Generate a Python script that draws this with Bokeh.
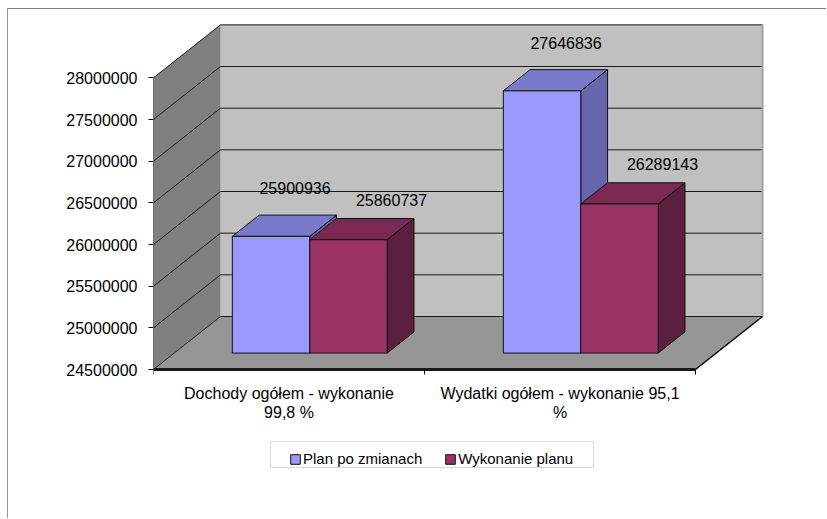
from bokeh.plotting import figure
from bokeh.models import Range1d, FixedTicker, NumeralTickFormatter, Legend, LegendItem, BoxAnnotation
from bokeh.embed import file_html
from bokeh.resources import INLINE
from bokeh.core.properties import value

# ---------------- data ----------------
categories = ["Dochody ogółem - wykonanie\n99,8 %", "Wydatki ogółem - wykonanie 95,1\n%"]
series_names = ["Plan po zmianach", "Wykonanie planu"]
plan_values = [25900936, 27646836]
wykonanie_values = [25860737, 26289143]
y_ticks = [24500000, 25000000, 25500000, 26000000, 26500000, 27000000, 27500000, 28000000]

# ---------------- layout / style (page pixel coordinates) ----------------
OX, OY = 8, 9               # page position of the canvas (after CSS margin + border)
W, H = 819, 510
AXIS_X = 153                # page x of front value axis
FLOOR_Y = 369               # page y of front floor edge
PX_X = 271.0                # px per category
PX_Y = 83.33e-6             # px per value unit
DEPTH_PX = (67.0, 53.0)     # 3D depth offset in px (right, up)
F_FRONT, F_BACK = 0.31, 0.71
BAR_W = 1 / 3.5
GAP_L = 0.75 / 3.5
LABEL_OFF = [(24, 48), (43, 40)]   # data-label offset per series in px (right, up)
FONT = "Liberation Sans"
FS = "16px"
FS_LEG = "15px"

front_cols = ["#9999FF", "#993366"]
top_cols = ["#7A7ACC", "#7A2952"]
side_cols = ["#6666AA", "#5C1F3D"]

ymin, ymax = y_ticks[0], y_ticks[-1]
DXu = DEPTH_PX[0] / PX_X
DYu = DEPTH_PX[1] / PX_Y


def vy(py):
    """value at page y"""
    return ymin + (FLOOR_Y - py) / PX_Y


def cx(px):
    """x data at page x"""
    return (px - AXIS_X) / PX_X


def proj(x, v, f):
    return x + f * DXu, v + f * DYu


p = figure(width=W, height=H, output_backend="svg", toolbar_location=None,
           x_axis_location=None, y_axis_location="left",
           x_range=Range1d(0, cx(OX + W)), y_range=Range1d(vy(OY + H), vy(OY)),
           min_border_left=AXIS_X - OX, min_border_right=0, min_border_top=0, min_border_bottom=0,
           background_fill_color="white", border_fill_color="white", outline_line_color=None)
p.styles = {"margin-left": "7px", "margin-top": "8px",
            "border-left": "1px solid #9a9a9a", "border-top": "1px solid #7f7f7f"}
p.grid.visible = False

ax = p.yaxis[0]
ax.ticker = FixedTicker(ticks=y_ticks)
ax.formatter = NumeralTickFormatter(format="0")
ax.axis_line_color = None
ax.major_tick_line_color = "black"
ax.major_tick_out = 5
ax.major_tick_in = 0
ax.minor_tick_line_color = None
ax.major_label_standoff = 11
ax.major_label_text_font = FONT
ax.major_label_text_font_size = FS
ax.major_label_text_color = "black"

n = len(categories)


def poly(pts):
    xs, ys = zip(*[proj(*q) for q in pts])
    return list(xs), list(ys)


# walls and floor
back = poly([(0, ymin, 1), (n, ymin, 1), (n, ymax, 1), (0, ymax, 1)])
side = poly([(0, ymin, 0), (0, ymin, 1), (0, ymax, 1), (0, ymax, 0)])
floor = poly([(0, ymin, 0), (n, ymin, 0), (n, ymin, 1), (0, ymin, 1)])
p.patch(back[0], back[1], fill_color="#C0C0C0", line_color=None)
p.patch(side[0], side[1], fill_color="#808080", line_color=None)
p.patch(floor[0], floor[1], fill_color="#969696", line_color=None)

# gridlines on back wall and side wall
gx0, gy0, gx1, gy1 = [], [], [], []
sx0, sy0, sx1, sy1 = [], [], [], []
for t in y_ticks:
    a, b = proj(0, t, 1), proj(n, t, 1)
    gx0.append(a[0]); gy0.append(a[1]); gx1.append(b[0]); gy1.append(b[1])
    a, b = proj(0, t, 0), proj(0, t, 1)
    sx0.append(a[0]); sy0.append(a[1]); sx1.append(b[0]); sy1.append(b[1])
p.segment(gx0, gy0, gx1, gy1, line_color="#1a1a1a", line_width=1)
p.segment(sx0, sy0, sx1, sy1, line_color="#1a1a1a", line_width=1)
# back wall right edge
r0, r1 = proj(n, ymin, 1), proj(n, ymax, 1)
p.segment([r0[0]], [r0[1]], [r1[0]], [r1[1]], line_color="#a0a0a0", line_width=2)
# floor edges
f0, f1 = proj(n, ymin, 0), proj(n, ymin, 1)
p.segment([f0[0]], [f0[1]], [f1[0]], [f1[1]], line_color="black", line_width=1.5)
p.segment([0], [ymin], [n], [ymin], line_color="#1a1a1a", line_width=3)
# front value axis line
p.segment([0], [ymin], [0], [ymax], line_color="black", line_width=1)
# category ticks
tk = list(range(n + 1))
p.segment(tk, [ymin] * len(tk), tk, [ymin - 5 / PX_Y] * len(tk), line_color="black", line_width=1)

# bars
legend_items = []
lx, ly, lt = [], [], []
for s, vals in enumerate([plan_values, wykonanie_values]):
    fl, fr, ft, fb = [], [], [], []
    txs, tys, sxs, sys_ = [], [], [], []
    for i, v in enumerate(vals):
        x0 = i + GAP_L + s * BAR_W
        x1 = x0 + BAR_W
        a = proj(x0, ymin, F_FRONT)
        b = proj(x1, v, F_FRONT)
        fl.append(a[0]); fr.append(b[0]); fb.append(a[1]); ft.append(b[1])
        tx, ty = poly([(x0, v, F_FRONT), (x1, v, F_FRONT), (x1, v, F_BACK), (x0, v, F_BACK)])
        txs.append(tx); tys.append(ty)
        sx, sy = poly([(x1, ymin, F_FRONT), (x1, v, F_FRONT), (x1, v, F_BACK), (x1, ymin, F_BACK)])
        sxs.append(sx); sys_.append(sy)
        # data label anchor
        fx, fy = proj((x0 + x1) / 2, v, F_FRONT)
        lx.append(fx + LABEL_OFF[s][0] / PX_X)
        ly.append(fy + LABEL_OFF[s][1] / PX_Y)
        lt.append(str(v))
    p.patches(sxs, sys_, fill_color=side_cols[s], line_color="#111111", line_width=1)
    p.patches(txs, tys, fill_color=top_cols[s], line_color="#111111", line_width=1)
    r = p.quad(left=fl, right=fr, top=ft, bottom=fb, fill_color=front_cols[s],
               line_color="#111111", line_width=1)
    legend_items.append(LegendItem(label=series_names[s], renderers=[r]))

# value labels
p.text(lx, ly, text=lt, text_font=value(FONT), text_font_size=value(FS),
       text_align="center", text_baseline="middle", text_color="black")

# category labels
p.text([i + 0.5 for i in range(n)], [ymin - 15 / PX_Y] * n, text=categories,
       text_font=value(FONT), text_font_size=value(FS), text_align="center",
       text_baseline="top", text_color="black", text_line_height=1.15)

# legend
box = BoxAnnotation(left=cx(270), right=cx(593), top=vy(441), bottom=vy(467),
                    fill_color="white", fill_alpha=1, line_color="#808080", line_width=1)
p.add_layout(box)
legend = Legend(items=legend_items, orientation="horizontal",
                location=(289 - AXIS_X, OY + H - 467), padding=4, spacing=22,
                label_standoff=2, glyph_width=12, glyph_height=12, margin=0,
                border_line_color=None, background_fill_alpha=0,
                label_text_font=FONT, label_text_font_size=FS_LEG, label_text_color="black")
p.add_layout(legend)

open("out.html", "w").write(file_html(p, INLINE))
